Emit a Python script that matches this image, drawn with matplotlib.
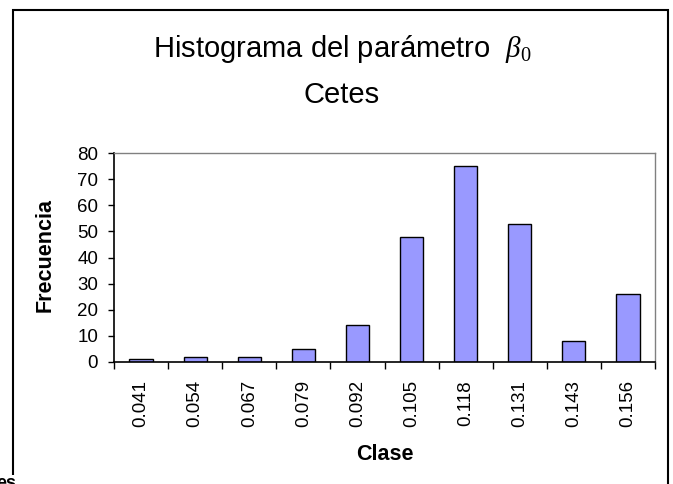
import matplotlib
matplotlib.use("Agg")
import matplotlib.pyplot as plt
from matplotlib.patches import Rectangle

categories = ["0.041", "0.054", "0.067", "0.079", "0.092", "0.105", "0.118", "0.131", "0.143", "0.156"]
frequencies = [1, 2, 2, 5, 14, 48, 75, 53, 8, 26]
y_ticks = [0, 10, 20, 30, 40, 50, 60, 70, 80]

plt.rcParams['font.family'] = ['Liberation Sans', 'DejaVu Sans']
plt.rcParams['mathtext.fontset'] = 'custom'
plt.rcParams['mathtext.it'] = 'Liberation Serif:italic'
plt.rcParams['mathtext.rm'] = 'Liberation Serif'

W, H = 673, 484
fig = plt.figure(figsize=(W / 100, H / 100), dpi=100)

# outer chart frame
fig.patches.append(Rectangle((12.5 / W, -0.05), (668 - 12.5) / W, (H - 9.5) / H + 0.05,
                             transform=fig.transFigure, fill=False, edgecolor='black', lw=1.5))

left, right, top, bottom = 114, 655, 153, 362
ax = fig.add_axes([left / W, 1 - bottom / H, (right - left) / W, (bottom - top) / H])

x = list(range(len(categories)))
ax.bar(x, frequencies, width=0.43, color='#9999FF', edgecolor='black', linewidth=1.0)
ax.set_xlim(-0.5, len(categories) - 0.5)
ax.set_ylim(0, 80)
ax.set_yticks(y_ticks)
ax.set_yticklabels([str(v) for v in y_ticks], fontsize=13.5)
ax.set_xticks(x)
ax.set_xticklabels(categories, rotation=90, fontsize=13.5)
ax.tick_params(axis='x', length=0, pad=13)
ax.set_xticks([i - 0.5 for i in range(len(categories) + 1)], minor=True)
ax.tick_params(axis='x', which='minor', length=5, width=1, direction='out')
ax.tick_params(axis='y', length=4.5, width=1, direction='out', pad=7)

for s in ['top', 'right']:
    ax.spines[s].set_color('#808080')
    ax.spines[s].set_linewidth(1.0)
for s in ['left', 'bottom']:
    ax.spines[s].set_color('black')
    ax.spines[s].set_linewidth(1.2)

fig.text(45.5 / W, 1 - 255 / H, 'Frecuencia', rotation=90, fontsize=15.5, fontweight='bold',
         ha='center', va='center')
fig.text(385 / W, 1 - 455 / H, 'Clase', fontsize=15.5, fontweight='bold', ha='center', va='center')

fig.text(342 / W, 1 - 57 / H, r'Histograma del parámetro  $\beta_{\mathit{0}}$', fontsize=21,
         ha='center', va='baseline')
fig.text(342 / W, 1 - 103 / H, 'Cetes', fontsize=21, ha='center', va='baseline')

fig.text(-4 / W, 1 - 475 / H, 'es', fontsize=13, fontweight='bold', ha='left', va='top',
         bbox=dict(facecolor='white', edgecolor='none', pad=0))

fig.savefig('out.png', dpi=100)
